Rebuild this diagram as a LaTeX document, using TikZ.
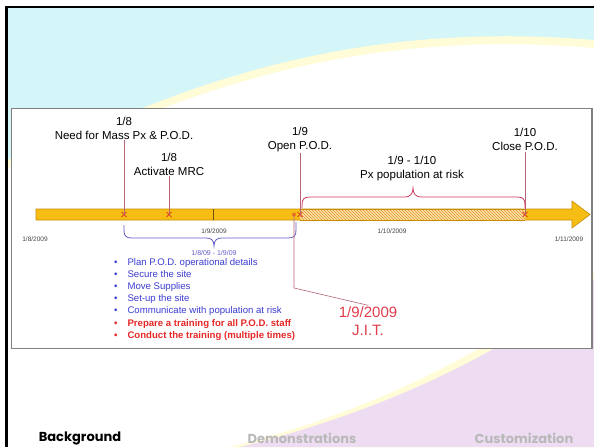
\documentclass[tikz,border=0pt]{standalone}
\usepackage{fontspec}
\setmainfont{Liberation Sans}
\newfontfamily\navfont{Poppins}
\definecolor{skycyan}{RGB}{212,246,248}
\definecolor{cream}{RGB}{255,252,215}
\definecolor{lavender}{RGB}{238,220,242}
\definecolor{panelgray}{RGB}{128,128,128}
\definecolor{bargold}{RGB}{246,190,20}
\definecolor{bardark}{RGB}{200,140,0}
\definecolor{hatchbg}{RGB}{252,226,170}
\definecolor{hatchline}{RGB}{230,150,40}
\definecolor{tickdark}{RGB}{110,80,20}
\definecolor{xred}{RGB}{225,70,30}
\definecolor{dotorange}{RGB}{235,110,30}
\definecolor{stemred}{RGB}{180,100,115}
\definecolor{bracered}{RGB}{205,60,95}
\definecolor{braceblue}{RGB}{100,95,200}
\definecolor{listblue}{RGB}{60,60,210}
\definecolor{listred}{RGB}{230,40,40}
\definecolor{jitred}{RGB}{225,60,75}
\definecolor{dategray}{RGB}{70,70,70}
\definecolor{navgray}{RGB}{185,185,185}
\usetikzlibrary{positioning,calc,patterns,shapes.misc}

\begin{document}
\begin{tikzpicture}[x=1pt,y=-1pt,
  evlabel/.style={align=center,font=\fontsize{11.5}{14}\selectfont,inner sep=1pt},
  datelbl/.style={font=\fontsize{6.5}{7}\selectfont,text=dategray,inner sep=1pt},
  evline/.style={draw=stemred,line width=0.6pt},
  xmk/.style={cross out,draw=xred,line width=1pt,minimum size=4pt,inner sep=0pt},
  bracepath/.style={line width=0.8pt},
  navlbl/.style={font=\navfont\bfseries\fontsize{13}{14}\selectfont,inner sep=0pt}
]
  \useasboundingbox (0,0) rectangle (594,447);
  % slide background
  \fill[white] (0,0) rectangle (594,447);
  \fill[skycyan] (8,8) rectangle (594,447);
  \fill[cream] (8,447) -- (8,160) -- (120,117) .. controls (230,72) and (380,22) .. (594,40) -- (594,447) -- cycle;
  \fill[white] (8,447) -- (8,168) -- (120,125) .. controls (230,80) and (380,30) .. (594,48) -- (594,447) -- cycle;
  \fill[cream] (230,447) .. controls (400,405) and (520,330) .. (594,272) -- (594,447) -- cycle;
  \fill[lavender] (240,447) .. controls (410,405) and (530,335) .. (594,280) -- (594,447) -- cycle;
  \draw[black,line width=3pt] (6.5,447) -- (6.5,7);
  \draw[black,line width=2pt] (5,7) -- (594,7);
  % picture panel
  \draw[panelgray,line width=1.5pt,fill=white] (11.5,108.5) rectangle (592,348.5);

  % time bar
  \draw[bardark,fill=bargold,line width=0.6pt] (36,209) -- (572,209) -- (572,201) -- (590,214.5)
    -- (572,228) -- (572,220) -- (36,220) -- cycle;
  \fill[hatchbg] (300,209) rectangle (525,220);
  \fill[pattern=north west lines,pattern color=hatchline] (300,209) rectangle (525,220);
  \draw[bardark,line width=0.6pt] (300,209) -- (525,209) (300,220) -- (525,220);
  \draw[tickdark,line width=0.6pt] (213,209) -- (213,220);

  % events
  \node[xmk] (m1) at (124,214.5) {};
  \node[xmk] (m2) at (169,214.5) {};
  \node[xmk] (m3) at (300,214.5) {};
  \node[xmk] (m4) at (525,214.5) {};
  \node[circle,fill=dotorange,inner sep=0pt,minimum size=4pt] (jdot) at (294,214.5) {};

  \node[evlabel] (need) at (124,128) {1/8\\Need for Mass Px \& P.O.D.};
  \node[evlabel] (mrc) at (169,164) {1/8\\Activate MRC};
  \node[evlabel] (open) at (300,139.5) {1/9\\Open P.O.D.};
  \node[evlabel] (close) at (525,139.5) {1/10\\Close P.O.D.};
  \node[evlabel] (risk) at (412,168.5) {1/9 - 1/10\\Px population at risk};

  \draw[evline] (need.south) -- (m1.center);
  \draw[evline] (mrc.south) -- (m2.center);
  \draw[evline] (open.south) -- (m3.center);
  \draw[evline] (close.south) -- (m4.center);

  % braces
  \coordinate (rb1) at (302,208);
  \coordinate (rb2) at (525,208);
  \draw[bracepath,draw=bracered] (rb1) -- (302,205) .. controls (302,199) and (304,197) .. (310,197) -- (405,197)
    .. controls (410,197) and (413,194) .. (413,188) .. controls (413,194) and (416,197) .. (421,197)
    -- (517,197) .. controls (523,197) and (525,199) .. (525,205) -- (rb2);
  \coordinate (bb1) at (124,225);
  \coordinate (bb2) at (296,222);
  \draw[bracepath,draw=braceblue] (bb1) -- (124,230) .. controls (124,236) and (126,238) .. (132,238) -- (206,238)
    .. controls (211,238) and (214,240) .. (214,246) .. controls (214,240) and (217,238) .. (222,238)
    -- (288,238) .. controls (294,238) and (296,236) .. (296,230) -- (bb2);
  \node[font=\fontsize{7}{8}\selectfont,text=braceblue] (span) at (214,253) {1/8/09 - 1/9/09};

  % dates
  \node[datelbl] (d8) at (35,239) {1/8/2009};
  \node[datelbl] (d9) at (214,231) {1/9/2009};
  \node[datelbl] (d10) at (392,231) {1/10/2009};
  \node[datelbl] (d11) at (569,239) {1/11/2009};

  % tasks
  \node[anchor=north west,align=left,inner sep=0pt,font=\fontsize{9.6}{12.2}\selectfont,text=listblue]
    (tasks) at (114,258) {%
    \textbullet\hspace{10pt}Plan P.O.D. operational details\\
    \textbullet\hspace{10pt}Secure the site\\
    \textbullet\hspace{10pt}Move Supplies\\
    \textbullet\hspace{10pt}Set-up the site\\
    \textbullet\hspace{10pt}Communicate with population at risk\\
    {\color{listred}\bfseries\textbullet\hspace{10pt}Prepare a training for all P.O.D. staff}\\
    {\color{listred}\bfseries\textbullet\hspace{10pt}Conduct the training (multiple times)}};

  % just in time
  \node[font=\fontsize{15}{18}\selectfont,text=jitred,align=center,inner sep=1pt] (jit) at (368,321) {1/9/2009\\J.I.T.};
  \coordinate (jbend) at (294,288);
  \draw[evline] (jdot.center) -- (jbend) -- (jit.north);

  % navigation
  \node[navlbl,text=black] (nav1) at (80,438) {Background};
  \node[navlbl,text=navgray] (nav2) at (302,438) {Demonstrations};
  \node[navlbl,text=navgray] (nav3) at (524,438) {Customization};
\end{tikzpicture}
\end{document}
